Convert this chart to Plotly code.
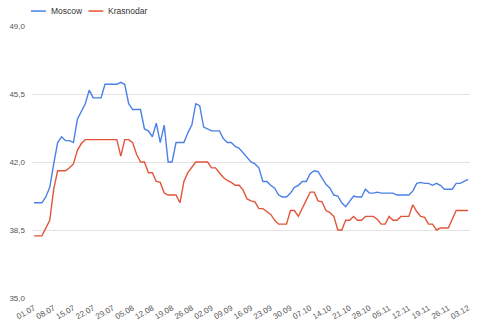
import pandas as pd
import plotly.graph_objects as go

# Trading days 01.07–03.12 (04.11 is a public holiday)
days = [d for d in pd.bdate_range("2019-07-01", "2019-12-03") if d != pd.Timestamp("2019-11-04")]
dates = [d.strftime("%d.%m") for d in days]

moscow = [
    39.9, 39.9, 39.9, 40.2, 40.7, 41.9, 43.0, 43.3, 43.1, 43.1,
    43.0, 44.2, 44.6, 45.0, 45.7, 45.3, 45.3, 45.3, 46.0, 46.0,
    46.0, 46.0, 46.1, 46.0, 45.0, 44.7, 44.7, 44.7, 43.7, 43.6,
    43.3, 44.0, 43.0, 43.9, 42.0, 42.0, 43.0, 43.0, 43.0, 43.5,
    43.9, 45.0, 44.9, 43.8, 43.7, 43.6, 43.6, 43.6, 43.2, 43.0,
    43.0, 42.8, 42.7, 42.45, 42.2, 42.0, 41.9, 41.7, 41.0, 41.0,
    40.8, 40.65, 40.3, 40.2, 40.2, 40.4, 40.7, 40.8, 41.0, 41.0,
    41.4, 41.55, 41.5, 41.2, 40.85, 40.65, 40.3, 40.25, 39.9, 39.7,
    40.0, 40.25, 40.2, 40.2, 40.6, 40.4, 40.4, 40.45, 40.4, 40.4,
    40.4, 40.4, 40.3, 40.3, 40.3, 40.3, 40.5, 40.9, 40.95, 40.9,
    40.9, 40.8, 40.9, 40.8, 40.6, 40.6, 40.6, 40.9, 40.9, 41.0,
    41.1,
]

krasnodar = [
    38.2, 38.2, 38.2, 38.6, 39.0, 40.6, 41.55, 41.55, 41.55, 41.7,
    41.9, 42.6, 42.95, 43.15, 43.15, 43.15, 43.15, 43.15, 43.15, 43.15,
    43.15, 43.15, 42.3, 43.15, 43.15, 43.0, 42.4, 42.0, 42.0, 41.45,
    41.45, 41.0, 40.95, 40.4, 40.3, 40.3, 40.3, 39.9, 41.0, 41.45,
    41.7, 42.0, 42.0, 42.0, 42.0, 41.7, 41.7, 41.45, 41.2, 41.05,
    40.95, 40.8, 40.8, 40.55, 40.1, 40.0, 39.95, 39.6, 39.6, 39.45,
    39.3, 39.0, 38.8, 38.8, 38.8, 39.5, 39.5, 39.2, 39.6, 40.0,
    40.45, 40.45, 40.0, 39.95, 39.5, 39.4, 39.2, 38.5, 38.5, 39.0,
    39.0, 39.2, 39.0, 39.0, 39.2, 39.2, 39.2, 39.05, 38.8, 38.8,
    39.2, 39.0, 39.0, 39.2, 39.2, 39.2, 39.8, 39.45, 39.2, 39.15,
    38.8, 38.8, 38.5, 38.6, 38.6, 38.6, 39.05, 39.5, 39.5, 39.5,
    39.5,
]

x_tick_labels = [
    "01.07", "08.07", "15.07", "22.07", "29.07", "05.08", "12.08", "19.08",
    "26.08", "02.09", "09.09", "16.09", "23.09", "30.09", "07.10", "14.10",
    "21.10", "28.10", "05.11", "12.11", "19.11", "26.11", "03.12",
]
y_ticks = [35.0, 38.5, 42.0, 45.5, 49.0]

series_names = ["Moscow", "Krasnodar"]
colors = ["#4a80e8", "#e4543a"]

FONT = "Liberation Sans, Arial, sans-serif"
W, H = 480, 330
ML, MR, MT, MB = 29, 9, 26, 31

fig = go.Figure()
for name, vals, col in zip(series_names, [moscow, krasnodar], colors):
    fig.add_trace(go.Scatter(
        x=dates, y=vals, mode="lines", name=name,
        line=dict(color=col, width=1.4), showlegend=False,
    ))

# Compact legend row above the plot
pw = W - ML - MR
ph = H - MT - MB
def px_x(p):
    return (p - ML) / pw
def px_y(p):
    return (H - MB - p) / ph

legend_x = [28, 86]
for name, col, lx in zip(series_names, colors, legend_x):
    fig.add_shape(type="line", xref="paper", yref="paper",
                  x0=px_x(lx), x1=px_x(lx + 15), y0=px_y(11), y1=px_y(11),
                  line=dict(color=col, width=1.5))
    fig.add_annotation(xref="paper", yref="paper", x=px_x(lx + 18), y=px_y(11),
                       text=name, showarrow=False, xanchor="left", yanchor="middle",
                       font=dict(family=FONT, size=8.5, color="#333333"))

fig.update_layout(
    width=W, height=H,
    margin=dict(l=ML, r=MR, t=MT, b=MB),
    paper_bgcolor="white", plot_bgcolor="white",
    separators=", ",
    font=dict(family=FONT, size=8, color="#555555"),
    xaxis=dict(
        type="category", categoryorder="array", categoryarray=dates,
        range=[-0.5, len(dates) - 0.5],
        tickmode="array", tickvals=x_tick_labels, ticktext=x_tick_labels,
        tickangle=-30, showgrid=False, zeroline=False, showline=False,
        ticks="", ticklen=0, ticklabelstandoff=3,
        tickfont=dict(size=8, color="#555555"),
    ),
    yaxis=dict(
        range=[35, 49], tickmode="array", tickvals=y_ticks, tickformat=".1f",
        showgrid=True, gridcolor="#e3e3e3", gridwidth=1, zeroline=False,
        showline=False, ticks="", ticklabelstandoff=6,
        tickfont=dict(size=8, color="#555555"),
    ),
)

fig.write_html("out.html")
